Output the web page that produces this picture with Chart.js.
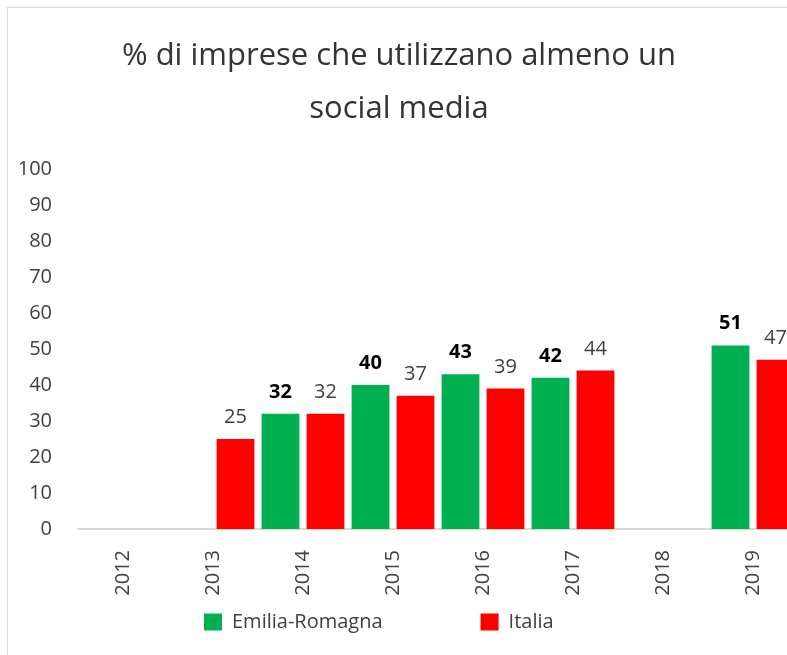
<!DOCTYPE html>
<html>
<head>
<meta charset="utf-8">
<script src="https://cdn.jsdelivr.net/npm/chart.js@4.4.0/dist/chart.umd.min.js"></script>
<style>
  html, body { margin: 0; padding: 0; background: #fff; }
  #wrap { position: relative; width: 787px; height: 655px; overflow: hidden; }
  #frame { position: absolute; left: 7px; top: 7px; width: 820px; height: 700px;
           border-left: 1px solid #d9d9d9; border-top: 1px solid #d9d9d9; }
  #chart { position: absolute; left: 0; top: 0; }
</style>
</head>
<body>
<div id="wrap">
  <div id="frame"></div>
  <canvas id="chart" width="798" height="655"></canvas>
</div>
<script>
const years = ["2012", "2013", "2014", "2015", "2016", "2017", "2018", "2019"];
const emiliaRomagna = [null, null, 32, 40, 43, 42, null, 51];
const italia = [null, 25, 32, 37, 39, 44, null, 47];
const yTicks = [0, 10, 20, 30, 40, 50, 60, 70, 80, 90, 100];

// numbers above the bars
const valueLabels = {
  id: "valueLabels",
  afterDatasetsDraw(chart) {
    const ctx = chart.ctx;
    chart.data.datasets.forEach((ds, i) => {
      const meta = chart.getDatasetMeta(i);
      meta.data.forEach((bar, j) => {
        const v = ds.data[j];
        if (v == null) return;
        ctx.save();
        ctx.font = (i === 0 ? "bold " : "") + '20px "Open Sans"';
        ctx.fillStyle = i === 0 ? "#000000" : "#404040";
        ctx.textAlign = "center";
        ctx.textBaseline = "alphabetic";
        ctx.fillText(v, bar.x, bar.y - 16);
        ctx.restore();
      });
    });
  }
};

// put the legend where the original has it
const legendPlace = {
  id: "legendPlace",
  afterLayout(chart) {
    const lg = chart.legend;
    const pad = lg.options.labels.padding;
    lg.left = 204 - pad;
    lg.right = chart.width;
    lg.top = 612 - pad;
    lg.bottom = chart.height;
    lg.width = lg.right - lg.left;
    lg.height = lg.bottom - lg.top;
  }
};

new Chart(document.getElementById("chart"), {
  type: "bar",
  data: {
    labels: years,
    datasets: [
      {
        label: "Emilia-Romagna",
        data: emiliaRomagna,
        backgroundColor: "#00B050",
        borderWidth: 0
      },
      {
        label: "Italia",
        data: italia,
        backgroundColor: "#FF0000",
        borderWidth: 0
      }
    ]
  },
  options: {
    responsive: false,
    animation: false,
    devicePixelRatio: 1,
    datasets: {
      bar: { categoryPercentage: 1.0, barPercentage: 0.84 }
    },
    layout: { padding: 0 },
    plugins: {
      title: {
        display: true,
        text: ["% di imprese che utilizzano almeno un", "social media"],
        color: "#333333",
        font: { family: '"Open Sans", sans-serif', size: 31, weight: "normal", lineHeight: 1.71 },
        padding: { top: 30, bottom: 33 }
      },
      legend: {
        position: "bottom",
        align: "start",
        maxHeight: 56,
        labels: {
          boxWidth: 18,
          boxHeight: 17,
          padding: 98,
          color: "#404040",
          font: { family: '"Open Sans"', size: 20 }
        }
      },
      tooltip: { enabled: false }
    },
    scales: {
      x: {
        grid: { display: false, drawTicks: false },
        border: { display: true, color: "#d9d9d9", width: 2 },
        ticks: {
          autoSkip: false,
          minRotation: 90,
          maxRotation: 90,
          padding: 21,
          color: "#404040",
          font: { family: '"Open Sans"', size: 20 }
        },
        afterFit(scale) { scale.height = 70; }
      },
      y: {
        min: 0,
        max: 100,
        grid: { display: false, drawTicks: false },
        border: { display: false },
        afterBuildTicks(scale) { scale.ticks = yTicks.map(v => ({ value: v })); },
        ticks: {
          padding: 26,
          color: "#404040",
          font: { family: '"Open Sans"', size: 20 }
        },
        afterFit(scale) { scale.width = 78; }
      }
    }
  },
  plugins: [valueLabels, legendPlace]
});
</script>
</body>
</html>
